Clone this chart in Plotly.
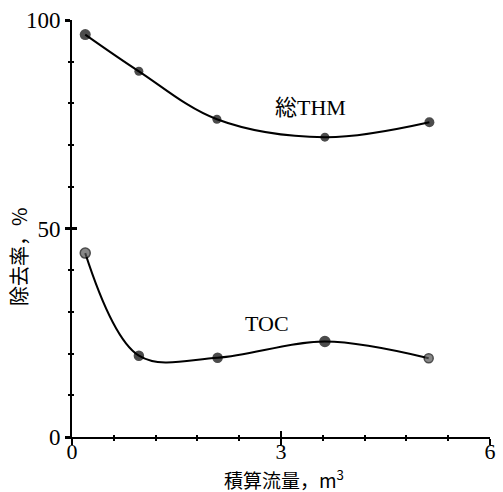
import plotly.graph_objects as go

# data
flow = [0.19, 0.96, 2.08, 3.63, 5.13]
thm_removal = [96.5, 87.7, 76.2, 71.9, 75.5]
toc_flow = [0.19, 0.96, 2.09, 3.63, 5.12]
toc_removal = [44.1, 19.5, 19.0, 22.9, 18.9]
x_ticks = [0, 3, 6]
y_ticks = [0, 50, 100]

FONT = "Liberation Serif, Noto Sans CJK JP, serif"
JP = "Noto Sans CJK JP, Liberation Serif, sans-serif"

fig = go.Figure()
fig.add_trace(go.Scatter(
    x=flow, y=thm_removal, mode="lines+markers",
    line=dict(color="black", width=2, shape="spline", smoothing=1.0),
    marker=dict(color="black", size=[11, 9, 9, 9, 10], line=dict(width=0)),
    cliponaxis=False, showlegend=False))
fig.add_trace(go.Scatter(
    x=toc_flow, y=toc_removal, mode="lines+markers",
    line=dict(color="black", width=2, shape="spline", smoothing=1.0),
    marker=dict(color=["#555", "black", "black", "black", "#555"], size=[10, 9, 9, 10, 9],
                line=dict(color="black", width=1.5)),
    cliponaxis=False, showlegend=False))
# helper trace on overlay axes for inward ticks
fig.add_trace(go.Scatter(x=[None], y=[None], xaxis="x2", yaxis="y2", showlegend=False))

common_x = dict(range=[0, 6], showgrid=False, zeroline=False, fixedrange=True)
common_y = dict(range=[0, 100], showgrid=False, zeroline=False, fixedrange=True)

fig.update_layout(
    width=503, height=492,
    margin=dict(l=72, r=7, t=20, b=55),
    paper_bgcolor="white", plot_bgcolor="white",
    font=dict(family=FONT, size=23, color="black"),
    xaxis=dict(**common_x, showline=True, linecolor="black", linewidth=2,
               tickmode="array", tickvals=x_ticks, ticktext=[str(v) for v in x_ticks],
               ticks="outside", ticklen=6, tickwidth=2, tickcolor="black",
               ticklabelstandoff=-12,
               minor=dict(dtick=0.6, ticks="outside", ticklen=2, tickwidth=2, tickcolor="black"),
               tickfont=dict(family=FONT, size=22)),
    yaxis=dict(**common_y, showline=True, linecolor="black", linewidth=2,
               tickmode="array", tickvals=y_ticks, ticktext=[str(v) for v in y_ticks],
               ticks="outside", ticklen=5, tickwidth=3, tickcolor="black",
               minor=dict(dtick=10, ticks="outside", ticklen=2, tickwidth=2, tickcolor="black"),
               tickfont=dict(family=FONT, size=23)),
    xaxis2=dict(**common_x, overlaying="x", anchor="y2", showline=False,
                tickmode="array", tickvals=[3, 6], showticklabels=False,
                ticks="inside", ticklen=6, tickwidth=2, tickcolor="black",
                minor=dict(dtick=0.6, ticks="inside", ticklen=2, tickwidth=2, tickcolor="black")),
    yaxis2=dict(**common_y, overlaying="y", anchor="x2", showline=False,
                tickmode="array", tickvals=[50, 100], showticklabels=False,
                ticks="inside", ticklen=5, tickwidth=3, tickcolor="black",
                minor=dict(dtick=10, ticks="inside", ticklen=2, tickwidth=2, tickcolor="black")),
    annotations=[
        dict(x=3.43, y=79.1, xref="x", yref="y", text="総THM", showarrow=False,
             xanchor="center", yanchor="middle", font=dict(family=FONT, size=22)),
        dict(x=2.8, y=27.2, xref="x", yref="y", text="TOC", showarrow=False,
             xanchor="center", yanchor="middle", font=dict(family=FONT, size=22)),
        dict(x=0.507, y=-0.1015, xref="paper", yref="paper", text="積算流量，m<sup>3</sup>",
             showarrow=False, xanchor="center", yanchor="middle",
             font=dict(family=JP, size=19)),
        dict(x=-0.127, y=0.4317, xref="paper", yref="paper", text="除去率，%", showarrow=False,
             xanchor="center", yanchor="middle", textangle=-90,
             font=dict(family=JP, size=20)),
    ],
)

fig.write_html(
    "out.html",
    config={"displayModeBar": False, "staticPlot": True},
    post_script="document.body.style.margin='0';document.body.style.overflow='hidden';"
                "document.documentElement.style.overflow='hidden';",
)
